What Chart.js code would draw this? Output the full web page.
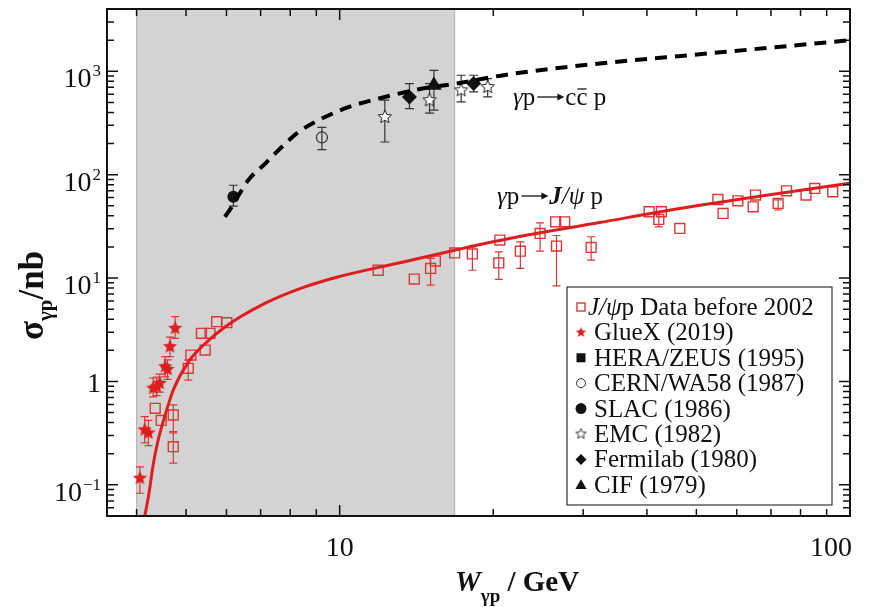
<!DOCTYPE html>
<html>
<head>
<meta charset="utf-8">
<script src="https://cdn.jsdelivr.net/npm/chart.js@4.4.0/dist/chart.umd.min.js"></script>
<style>
  html, body { margin: 0; padding: 0; background: #fff; }
  #wrap { width: 875px; height: 607px; }
</style>
</head>
<body>
<div id="wrap"><canvas id="chart" width="875" height="607"></canvas></div>
<script>
// model curves
const jpsiCurveW     = [4.15, 4.22, 4.31, 4.41, 4.55, 4.72, 5.05, 5.41, 5.96, 7.15, 8.31, 9.95, 13.06, 16.8, 21.5, 32.3, 46.4, 66.5, 100];
const jpsiCurveSigma = [0.050, 0.077, 0.156, 0.272, 0.474, 0.828, 1.54, 2.25, 3.37, 5.72, 7.83, 10.3, 14.0, 18.6, 24.1, 34.4, 47.1, 61.9, 82.8];
const ccCurveW       = [5.96, 6.14, 6.62, 7.16, 7.69, 8.31, 9.09, 10.4, 11.93, 14.3, 16.9, 21.5, 32.3, 50.7, 100];
const ccCurveSigma   = [39.1, 48.5, 88.5, 129, 184, 259, 336, 449, 545, 670, 760, 936, 1187, 1460, 1995];

// J/psi p data before 2002 (null = no error bar)
const oldW     = [4.35, 4.47, 4.72, 4.72, 5.05, 5.11, 5.45, 5.36, 5.57, 5.74, 6.01, 11.9, 14.0, 15.07, 15.4, 16.8, 18.2, 20.5, 20.6, 22.6, 24.7, 26.5, 27.6, 26.6, 31.1, 40.4, 42.7, 42.2, 46.4, 55.1, 56.4, 60.3, 64.6, 65.3, 72.3, 75.1, 82.0, 85.3, 92.5];
const oldSigma = [0.55, 0.42, 0.474, 0.234, 1.34, 1.80, 2.01, 2.92, 2.92, 3.79, 3.70, 11.9, 9.77, 12.4, 14.6, 17.5, 17.1, 14.0, 23.3, 18.2, 27.0, 35.0, 35.0, 20.4, 19.8, 43.8, 43.8, 36.9, 30.2, 57.5, 42.2, 55.8, 48.9, 63.4, 52.7, 69.7, 63.4, 73.6, 68.2];
const oldLow   = [null, null, 0.327, 0.162, 1.03, null, null, null, null, null, null, null, null, 8.55, null, null, 11.9, 9.7, null, 12.4, 18.2, null, null, 8.4, 14.9, null, null, 31.3, null, null, null, null, null, null, 45.5, null, null, null, null];
const oldHigh  = [null, null, 0.593, 0.318, 1.61, null, null, null, null, null, null, null, null, 15.5, null, null, 20.0, 17.9, null, 22.4, 34.2, null, null, 25.8, 25.1, null, null, 43.8, null, null, null, null, null, null, 57.0, null, null, null, null];

const gluexW     = [4.06, 4.15, 4.22, 4.31, 4.38, 4.44, 4.55, 4.60, 4.65, 4.76];
const gluexSigma = [0.116, 0.34, 0.318, 0.86, 0.89, 0.96, 1.39, 1.31, 2.17, 3.27];
const gluexLow   = [0.083, 0.255, 0.24, 0.71, 0.73, 0.79, 1.11, 1.05, 1.74, 2.61];
const gluexHigh  = [0.149, 0.457, 0.42, 1.08, 1.10, 1.18, 1.74, 1.62, 2.69, 4.23];

const heraW = [];
const heraSigma = [];
const cernW = [9.23];
const cernSigma = [229];
const cernLow = [175];
const cernHigh = [286];
const slacW = [6.19];
const slacSigma = [61];
const slacLow = [49.7];
const slacHigh = [79];
const emcW = [12.26, 15.0, 17.3, 19.5];
const emcSigma = [361, 525, 655, 705];
const emcLow = [207, 393, 505, 565];
const emcHigh = [525, 760, 915, 850];
const fermiW = [13.7, 18.3];
const fermiSigma = [565, 760];
const fermiLow = [436, 631];
const fermiHigh = [760, 915];
const cifW = [15.3];
const cifSigma = [732];
const cifLow = [420];
const cifHigh = [1022];

const xMajorTicks = [10, 100];
const xTickLabels = ['10', '100'];
const yMajorTicks = [0.1, 1, 10, 100, 1000];
const yTickBase = ['10', '1', '10', '10', '10'];
const yTickExp = ['\u22121', '', '1', '2', '3'];
const shadeFrom = 4.0;
const shadeTo = 16.8;

const legendLabels = ['p Data before 2002', 'GlueX (2019)', 'HERA/ZEUS (1995)', 'CERN/WA58 (1987)',
  'SLAC (1986)', 'EMC (1982)', 'Fermilab (1980)', 'CIF (1979)'];

const RED = 'rgb(222,30,30)';
const RED_PT = 'rgb(220,55,55)';
const SERIF = '"Liberation Serif", "Times New Roman", serif';

function pts(xs, ys) {
  return xs.map((x, i) => ({ x: x, y: ys[i] }));
}

function makeStar(r, fill, stroke) {
  const c = document.createElement('canvas');
  const s = Math.ceil(r * 2 + 4);
  c.width = s; c.height = s;
  const g = c.getContext('2d');
  g.beginPath();
  for (let i = 0; i < 10; i++) {
    const rr = i % 2 === 0 ? r : r * 0.45;
    const a = -Math.PI / 2 + i * Math.PI / 5;
    const px = s / 2 + rr * Math.cos(a), py = s / 2 + rr * Math.sin(a);
    if (i === 0) g.moveTo(px, py); else g.lineTo(px, py);
  }
  g.closePath();
  if (fill) { g.fillStyle = fill; g.fill(); }
  if (stroke) { g.strokeStyle = stroke; g.lineWidth = 1; g.stroke(); }
  return c;
}

const redStar = makeStar(7.5, RED, null);
const openStar = makeStar(7, '#fff', '#222');
const redStarSmall = makeStar(5.5, RED, null);
const openStarSmall = makeStar(5.5, '#fff', '#333');

// draw runs of text with different fonts one after another
function drawRuns(ctx, x, y, runs) {
  runs.forEach(r => {
    if (r.arrow) {
      // long right arrow
      const ay = y - r.arrow.h;
      ctx.save();
      ctx.strokeStyle = ctx.fillStyle;
      ctx.lineWidth = 1.3;
      ctx.beginPath();
      ctx.moveTo(x + 2, ay); ctx.lineTo(x + r.arrow.w - 4, ay);
      ctx.stroke();
      ctx.beginPath();
      ctx.moveTo(x + r.arrow.w - 1, ay);
      ctx.lineTo(x + r.arrow.w - 8, ay - 3.5);
      ctx.lineTo(x + r.arrow.w - 8, ay + 3.5);
      ctx.closePath();
      ctx.fill();
      ctx.restore();
      x += r.arrow.w;
      return;
    }
    ctx.font = r.font;
    ctx.fillText(r.t, x, y + (r.dy || 0));
    const w = ctx.measureText(r.t).width;
    if (r.bar) {
      ctx.save();
      ctx.lineWidth = 1.3;
      ctx.beginPath();
      ctx.moveTo(x + 1, y - r.bar);
      ctx.lineTo(x + w - 1, y - r.bar);
      ctx.strokeStyle = ctx.fillStyle;
      ctx.stroke();
      ctx.restore();
    }
    x += w + (r.gap || 0);
  });
  return x;
}

const figurePlugin = {
  id: 'figure',
  beforeDatasetsDraw(chart) {
    const { ctx, chartArea: a, scales: { x, y } } = chart;
    ctx.save();
    const x0 = x.getPixelForValue(shadeFrom), x1 = x.getPixelForValue(shadeTo);
    ctx.fillStyle = '#d3d3d3';
    ctx.fillRect(x0, a.top, x1 - x0, a.bottom - a.top);
    ctx.strokeStyle = '#b2b2b2';
    ctx.lineWidth = 1;
    ctx.beginPath();
    ctx.moveTo(x0, a.top); ctx.lineTo(x0, a.bottom);
    ctx.moveTo(x1, a.top); ctx.lineTo(x1, a.bottom);
    ctx.stroke();

    // error bars
    ctx.beginPath();
    ctx.rect(a.left, a.top, a.right - a.left, a.bottom - a.top);
    ctx.clip();
    chart.data.datasets.forEach(ds => {
      if (!ds.errLow) return;
      ctx.strokeStyle = ds.errColor;
      ctx.lineWidth = 1.2;
      const cap = ds.errCap;
      ds.data.forEach((p, i) => {
        const lo = ds.errLow[i], hi = ds.errHigh[i];
        if (lo == null) return;
        const px = x.getPixelForValue(p.x);
        const yl = y.getPixelForValue(lo), yh = y.getPixelForValue(hi);
        ctx.beginPath();
        ctx.moveTo(px, yl); ctx.lineTo(px, yh);
        ctx.moveTo(px - cap, yl); ctx.lineTo(px + cap, yl);
        ctx.moveTo(px - cap, yh); ctx.lineTo(px + cap, yh);
        ctx.stroke();
      });
    });
    ctx.restore();
  },
  afterDraw(chart) {
    const { ctx, chartArea: a, scales: { x, y } } = chart;
    ctx.save();

    // frame
    ctx.strokeStyle = '#111';
    ctx.lineWidth = 2;
    ctx.strokeRect(a.left, a.top, a.right - a.left, a.bottom - a.top);

    // inward ticks on all sides
    ctx.lineWidth = 1.5;
    ctx.beginPath();
    for (let d = 1; d <= 100; d *= 10) {
      for (let m = 1; m <= 9; m++) {
        const v = m * d;
        if (v < x.min || v > x.max) continue;
        const px = x.getPixelForValue(v);
        const len = m === 1 ? 11 : 7;
        ctx.moveTo(px, a.bottom); ctx.lineTo(px, a.bottom - len);
        ctx.moveTo(px, a.top); ctx.lineTo(px, a.top + len);
      }
    }
    for (let d = 0.01; d <= 1000; d *= 10) {
      for (let m = 1; m <= 9; m++) {
        const v = m * d;
        if (v < y.min || v > y.max) continue;
        const py = y.getPixelForValue(v);
        const len = m === 1 ? 11 : 7;
        ctx.moveTo(a.left, py); ctx.lineTo(a.left + len, py);
        ctx.moveTo(a.right, py); ctx.lineTo(a.right - len, py);
      }
    }
    ctx.stroke();

    // tick labels
    ctx.fillStyle = '#111';
    ctx.textBaseline = 'alphabetic';
    const baseFont = '28px ' + SERIF;
    const expFont = '17px ' + SERIF;
    yMajorTicks.forEach((v, i) => {
      const py = y.getPixelForValue(v);
      ctx.font = baseFont;
      const wb = ctx.measureText(yTickBase[i]).width;
      ctx.font = expFont;
      const we = yTickExp[i] ? ctx.measureText(yTickExp[i]).width + 1 : 0;
      const left = 101 - wb - we;
      const base = yTickExp[i] ? py + 16 : py + 11;
      drawRuns(ctx, left, base, [
        { t: yTickBase[i], font: baseFont, gap: 1 },
        { t: yTickExp[i], font: expFont, dy: -11 }
      ]);
    });
    xMajorTicks.forEach((v, i) => {
      const px = x.getPixelForValue(v);
      ctx.font = baseFont;
      const w = ctx.measureText(xTickLabels[i]).width;
      const left = Math.min(px - w / 2, 852 - w);
      ctx.fillText(xTickLabels[i], left, 556);
    });

    // axis titles
    drawRuns(ctx, 455, 591, [
      { t: 'W', font: 'italic bold 29px ' + SERIF },
      { t: '\u03b3p', font: 'bold 19px ' + SERIF, dy: 11 },
      { t: ' / GeV', font: 'bold 29px ' + SERIF }
    ]);
    ctx.save();
    ctx.translate(43, 340);
    ctx.rotate(-Math.PI / 2);
    drawRuns(ctx, 0, 0, [
      { t: '\u03c3', font: 'bold 35px ' + SERIF },
      { t: '\u03b3p', font: 'bold 21px ' + SERIF, dy: 9 },
      { t: '/nb', font: 'bold 35px ' + SERIF }
    ]);
    ctx.restore();

    // curve annotations
    const aFont = '25px ' + SERIF;
    const aItal = 'italic 25px ' + SERIF;
    drawRuns(ctx, 513, 105, [
      { t: '\u03b3', font: aItal },
      { t: 'p', font: aFont },
      { arrow: { w: 30, h: 8 } },
      { t: 'c', font: aFont },
      { t: 'c', font: aFont, bar: 16 },
      { t: ' p', font: aFont }
    ]);
    drawRuns(ctx, 497, 204, [
      { t: '\u03b3', font: aItal },
      { t: 'p', font: aFont },
      { arrow: { w: 30, h: 8 } },
      { t: 'J', font: 'italic bold 25px ' + SERIF },
      { t: '/\u03c8', font: aItal },
      { t: ' p', font: aFont }
    ]);

    // legend box
    ctx.fillStyle = '#fff';
    ctx.fillRect(567, 287, 265, 218);
    ctx.strokeStyle = '#444';
    ctx.lineWidth = 1.3;
    ctx.strokeRect(567, 287, 265, 218);
    const lFont = '25px ' + SERIF;
    const H = Chart.helpers;
    legendLabels.forEach((lab, i) => {
      const cy = 307 + i * 25.4;
      const mx = 581;
      ctx.save();
      if (i === 0) {
        ctx.strokeStyle = RED_PT; ctx.lineWidth = 1.4;
        ctx.strokeRect(mx - 4, cy - 4, 8, 8);
      } else if (i === 1) {
        ctx.drawImage(redStarSmall, mx - redStarSmall.width / 2, cy - redStarSmall.height / 2);
      } else if (i === 2) {
        ctx.fillStyle = '#111'; ctx.fillRect(mx - 4.5, cy - 4.5, 9, 9);
      } else if (i === 3) {
        ctx.strokeStyle = '#333'; ctx.lineWidth = 1;
        ctx.beginPath(); ctx.arc(mx, cy, 4.5, 0, Math.PI * 2); ctx.stroke();
      } else if (i === 4) {
        ctx.fillStyle = '#111';
        ctx.beginPath(); ctx.arc(mx, cy, 5.5, 0, Math.PI * 2); ctx.fill();
      } else if (i === 5) {
        ctx.drawImage(openStarSmall, mx - openStarSmall.width / 2, cy - openStarSmall.height / 2);
      } else if (i === 6) {
        ctx.fillStyle = '#111';
        H.drawPoint(ctx, { pointStyle: 'rectRot', radius: 5.5, rotation: 0, borderWidth: 0 }, mx, cy);
      } else {
        ctx.fillStyle = '#111';
        H.drawPoint(ctx, { pointStyle: 'triangle', radius: 6.5, rotation: 0, borderWidth: 0 }, mx, cy + 1);
      }
      ctx.restore();
      ctx.fillStyle = '#111';
      if (i === 0) {
        drawRuns(ctx, 588, cy + 8, [
          { t: 'J/\u03c8', font: 'italic 25px ' + SERIF },
          { t: lab, font: lFont }
        ]);
      } else {
        ctx.font = lFont;
        ctx.fillText(lab, 594, cy + 8);
      }
    });
    ctx.restore();
  }
};

const ctx = document.getElementById('chart').getContext('2d');
let chart = new Chart(ctx, {
  type: 'scatter',
  data: {
    datasets: [
      {
        label: 'cc curve',
        data: pts(ccCurveW, ccCurveSigma),
        showLine: true,
        borderColor: '#000',
        borderWidth: 4,
        borderDash: [12, 8],
        pointRadius: 0,
        cubicInterpolationMode: 'monotone'
      },
      {
        label: 'J/psi curve',
        data: pts(jpsiCurveW, jpsiCurveSigma),
        showLine: true,
        borderColor: RED,
        borderWidth: 3,
        pointRadius: 0,
        cubicInterpolationMode: 'monotone'
      },
      {
        label: 'Fermilab (1980)',
        data: pts(fermiW, fermiSigma),
        pointStyle: 'rectRot', pointRadius: 7.5,
        backgroundColor: '#111', borderWidth: 0,
        errLow: fermiLow, errHigh: fermiHigh, errColor: '#333', errCap: 4.5
      },
      {
        label: 'CIF (1979)',
        data: pts(cifW, cifSigma),
        pointStyle: 'triangle', pointRadius: 9,
        backgroundColor: '#111', borderWidth: 0,
        errLow: cifLow, errHigh: cifHigh, errColor: '#333', errCap: 4.5
      },
      {
        label: 'SLAC (1986)',
        data: pts(slacW, slacSigma),
        pointStyle: 'circle', pointRadius: 6,
        backgroundColor: '#111', borderWidth: 0,
        errLow: slacLow, errHigh: slacHigh, errColor: '#333', errCap: 4.5
      },
      {
        label: 'EMC (1982)',
        data: pts(emcW, emcSigma),
        pointStyle: openStar,
        errLow: emcLow, errHigh: emcHigh, errColor: '#333', errCap: 4.5
      },
      {
        label: 'CERN/WA58 (1987)',
        data: pts(cernW, cernSigma),
        pointStyle: 'circle', pointRadius: 5.5,
        backgroundColor: 'rgba(0,0,0,0)', borderColor: '#333', borderWidth: 1.2,
        errLow: cernLow, errHigh: cernHigh, errColor: '#333', errCap: 4.5
      },
      {
        label: 'HERA/ZEUS (1995)',
        data: pts(heraW, heraSigma),
        pointStyle: 'rect', pointRadius: 6,
        backgroundColor: '#111'
      },
      {
        label: 'GlueX (2019)',
        data: pts(gluexW, gluexSigma),
        pointStyle: redStar,
        errLow: gluexLow, errHigh: gluexHigh, errColor: RED_PT, errCap: 4
      },
      {
        label: 'J/psi p Data before 2002',
        data: pts(oldW, oldSigma),
        pointStyle: 'rect', pointRadius: 7,
        backgroundColor: 'rgba(0,0,0,0)', borderColor: RED_PT, borderWidth: 1.4,
        errLow: oldLow, errHigh: oldHigh, errColor: RED_PT, errCap: 4
      }
    ]
  },
  options: {
    responsive: false,
    animation: false,
    devicePixelRatio: 1,
    layout: { padding: { left: 107, right: 25, top: 8, bottom: 91 } },
    plugins: { legend: { display: false }, tooltip: { enabled: false } },
    scales: {
      x: { type: 'logarithmic', min: 3.5, max: 100, display: false },
      y: { type: 'logarithmic', min: 0.05, max: 4000, display: false }
    }
  },
  plugins: [figurePlugin]
});
</script>
</body>
</html>
